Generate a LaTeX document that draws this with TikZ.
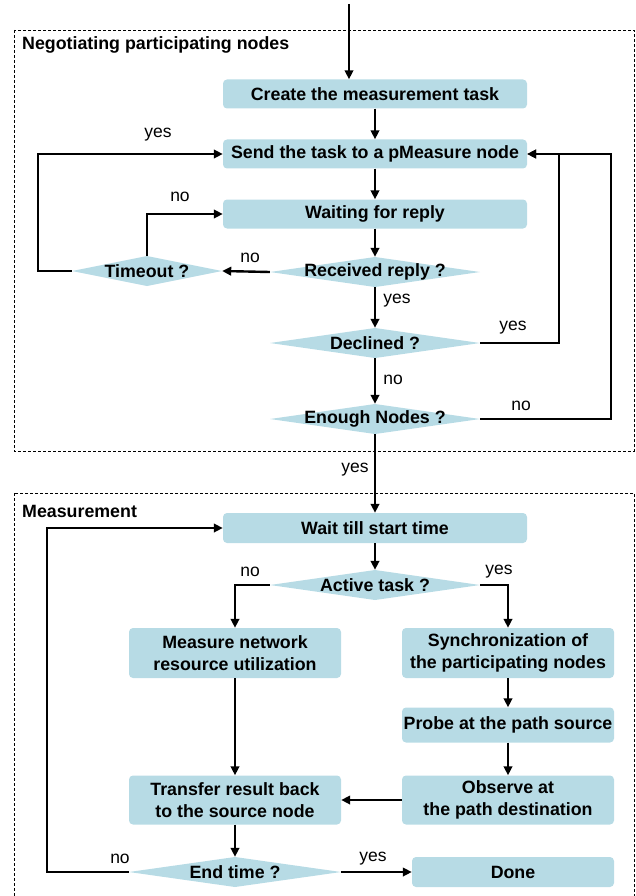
\documentclass[tikz,border=0pt]{standalone}
\usepackage{fontspec}
\setmainfont{Liberation Sans}
\usetikzlibrary{arrows.meta,calc}
\definecolor{boxblue}{RGB}{183,219,229}
\begin{document}
\begin{tikzpicture}[x=1pt,y=-1pt,
  every node/.style={font=\fontsize{17.8}{21.5}\selectfont},
  stepbox/.style={rectangle,rounded corners=4pt,fill=boxblue,inner sep=0pt,align=center,font=\fontsize{17.8}{21.5}\selectfont\bfseries},
  dia/.style={rectangle,inner sep=0pt,font=\fontsize{17.8}{21.5}\selectfont\bfseries,
    path picture={\fill[boxblue] (path picture bounding box.west) -- (path picture bounding box.north) -- (path picture bounding box.east) -- (path picture bounding box.south) -- cycle;}},
  conn/.style={line width=2.4pt,-{Triangle[length=9pt,width=8.5pt]}},
  lab/.style={inner sep=0pt,font=\fontsize{17.5}{21}\selectfont},
  group/.style={line width=0.9pt,dash pattern=on 3pt off 2pt},
  grouptitle/.style={anchor=west,inner sep=0pt,font=\fontsize{17.8}{21.5}\selectfont\bfseries}
]
\useasboundingbox (0,0) rectangle (635,896);
\clip (0,0) rectangle (635,896);

% groups
\draw[group] (14,30) rectangle (634,451);
\node[grouptitle] (t1) at (22,45) {Negotiating participating nodes};
\draw[group] (14,493) rectangle (634,920);
\node[grouptitle] (t2) at (22,511) {Measurement};

% nodes
\coordinate (top) at (349,4);
\node[stepbox,minimum width=304pt,minimum height=29pt] (create) at (375,94) {Create the measurement task};
\node[stepbox,minimum width=304pt,minimum height=29pt] (send) at (375,154) {Send the task to a pMeasure node};
\node[stepbox,minimum width=304pt,minimum height=29pt] (wait) at (375,214) {Waiting for reply};
\node[dia,minimum width=210pt,minimum height=30pt] (recv) at (375,272) {Received reply ?};
\node[dia,minimum width=150pt,minimum height=30pt] (timeout) at (147,271) {Timeout ?};
\node[dia,minimum width=210pt,minimum height=30pt] (decl) at (375,343) {Declined ?};
\node[dia,minimum width=210pt,minimum height=30pt] (enough) at (375,419) {Enough Nodes ?};

\node[stepbox,minimum width=304pt,minimum height=30pt] (waitst) at (375,528) {Wait till start time};
\node[dia,minimum width=210pt,minimum height=30pt] (active) at (375,585) {Active task ?};
\node[stepbox,minimum width=212pt,minimum height=50pt] (measure) at (235,653) {Measure network\\resource utilization};
\node[stepbox,minimum width=212pt,minimum height=50pt] (sync) at (508,653) {Synchronization of\\the participating nodes};
\node[stepbox,minimum width=212pt,minimum height=35pt] (probe) at (508,725) {Probe at the path source};
\node[stepbox,minimum width=212pt,minimum height=49pt] (observe) at (508,800) {Observe at\\the path destination};
\node[stepbox,minimum width=212pt,minimum height=49pt] (transfer) at (235,800) {Transfer result back\\to the source node};
\node[dia,minimum width=212pt,minimum height=30pt] (endt) at (235,872) {End time ?};
\node[stepbox,minimum width=202pt,minimum height=30pt] (done) at (513,872) {Done};

% connectors
\draw[conn] (top) -- (top |- create.north);
\draw[conn] (create) -- (send);
\draw[conn] (send) -- (wait);
\draw[conn] (wait) -- (recv);
\draw[conn] (recv.west) -- (timeout.east);
\draw[conn] (timeout.west) -- ++(-34,0) |- (send.west);
\draw[conn] (timeout.north) |- (wait.west);
\draw[conn] (recv) -- (decl);
\draw[conn] (decl.east) -- ++(79,0) |- (send.east);
\draw[conn] (decl) -- (enough);
\draw[conn] (enough.east) -- ++(131,0) |- (send.east);
\draw[conn] (enough) -- (waitst);

\draw[conn] (active.west) -| (measure.north);
\draw[conn] (active.east) -| (sync.north);
\draw[conn] (waitst) -- (active);
\draw[conn] (measure) -- (transfer);
\draw[conn] (sync) -- (probe);
\draw[conn] (probe) -- (observe);
\draw[conn] (observe) -- (transfer);
\draw[conn] (transfer) -- (endt);
\draw[conn] (endt.east) -- (done.west);
\draw[conn] (endt.west) -- ++(-82,0) |- (waitst.west);

% labels
\node[lab] (l1) at (158,135) {yes};
\node[lab] (l2) at (180,197) {no};
\node[lab] (l3) at (250,258) {no};
\node[lab] (l4) at (397,301) {yes};
\node[lab] (l5) at (513,328) {yes};
\node[lab] (l6) at (393,380) {no};
\node[lab] (l7) at (521,406) {no};
\node[lab] (l8) at (355,470) {yes};
\node[lab] (l9) at (250,572) {no};
\node[lab] (l10) at (499,572) {yes};
\node[lab] (l11) at (120,859) {no};
\node[lab] (l12) at (373,859) {yes};
\end{tikzpicture}
\end{document}
